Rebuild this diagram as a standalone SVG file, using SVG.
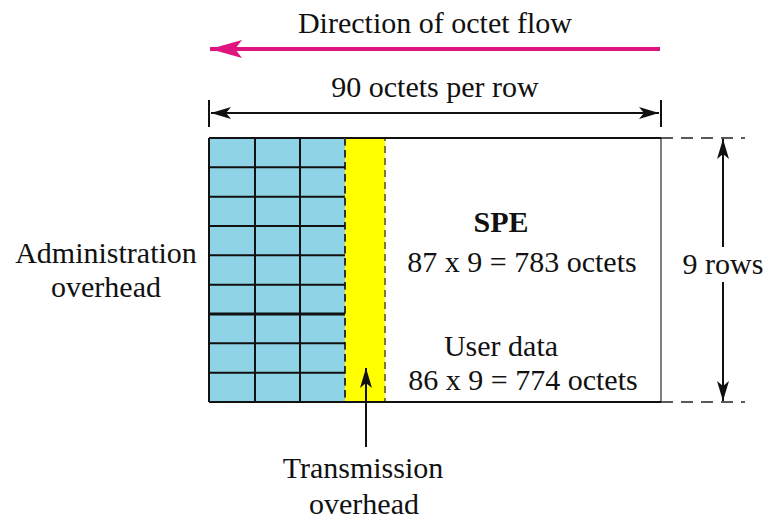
<svg xmlns="http://www.w3.org/2000/svg" width="770" height="520" viewBox="0 0 770 520">
<style>
  text { font-family: 'Liberation Serif', 'DejaVu Serif', serif; font-size: 30px; fill: #111; }
  .bold { font-weight: bold; }
  .grid { stroke: #111; stroke-width: 2; fill: none; }
  .dim { stroke: #111; stroke-width: 2; fill: none; }
  .dash { stroke: #222; stroke-width: 1.5; stroke-dasharray: 12 8; fill: none; }
</style>
<defs>
  <marker id="ah" viewBox="0 0 20 12" refX="20" refY="6" markerWidth="20" markerHeight="12" markerUnits="userSpaceOnUse" orient="auto-start-reverse">
    <path d="M0,0 L20,6 L0,12 L5,6 Z" fill="#111"/>
  </marker>
  <marker id="pink" viewBox="0 0 32 18" refX="32" refY="9" markerWidth="32" markerHeight="18" markerUnits="userSpaceOnUse" orient="auto">
    <path d="M0,0 L32,9 L0,18 L7,9 Z" fill="#E0147F"/>
  </marker>
</defs>
<rect width="770" height="520" fill="#fff"/>

<g id="flow-direction" font-family="Liberation Serif, serif">
  <text x="435" y="33" text-anchor="middle">Direction of octet flow</text>
</g>

<g id="frame">
  <rect x="209" y="138" width="136" height="264" fill="#8FD3E6"/>
  <rect x="345" y="138" width="40" height="264" fill="#FFFF00" stroke="#7A7A35" stroke-width="2" stroke-dasharray="7 5"/>
  <line x1="661" y1="138" x2="661" y2="402" stroke="#555" stroke-width="1.5"/>
  <line x1="209" y1="138" x2="661" y2="138" stroke="#111" stroke-width="2"/>
  <line x1="209" y1="402" x2="661" y2="402" stroke="#111" stroke-width="2"/>
  <g class="grid">
    <line x1="209" y1="138" x2="209" y2="402"/>
    <line x1="255" y1="138" x2="255" y2="402"/>
    <line x1="300" y1="138" x2="300" y2="402"/>
    <line x1="345" y1="138" x2="345" y2="402" stroke-dasharray="7 5" stroke="#333"/>
    <line x1="209" y1="167.3" x2="345" y2="167.3"/>
    <line x1="209" y1="196.7" x2="345" y2="196.7"/>
    <line x1="209" y1="226" x2="345" y2="226"/>
    <line x1="209" y1="255.3" x2="345" y2="255.3"/>
    <line x1="209" y1="284.7" x2="345" y2="284.7"/>
    <line x1="209" y1="314" x2="345" y2="314" stroke-width="3"/>
    <line x1="209" y1="343.3" x2="345" y2="343.3"/>
    <line x1="209" y1="372.7" x2="345" y2="372.7"/>
  </g>
</g>

<g id="admin-overhead">
  <text x="106" y="263" text-anchor="middle">Administration</text>
  <text x="106" y="297" text-anchor="middle">overhead</text>
</g>

<g id="spe">
  <text x="501" y="232" text-anchor="middle" class="bold">SPE</text>
  <text x="522" y="272" text-anchor="middle">87 x 9 = 783 octets</text>
</g>

<g id="user-data">
  <text x="501" y="356" text-anchor="middle">User data</text>
  <text x="523" y="390" text-anchor="middle">86 x 9 = 774 octets</text>
</g>

<g id="transmission-overhead">
  <text x="363" y="478" text-anchor="middle">Transmission</text>
  <text x="364" y="514" text-anchor="middle">overhead</text>
</g>

<g id="width-label">
  <text x="435" y="97" text-anchor="middle">90 octets per row</text>
</g>

<g id="rows-label">
  <text x="723" y="274" text-anchor="middle">9 rows</text>
</g>

<g id="connectors">
  <line x1="660" y1="49" x2="210" y2="49" stroke="#E0147F" stroke-width="4" marker-end="url(#pink)"/>
  <line x1="209" y1="100" x2="209" y2="127" class="dim"/>
  <line x1="661" y1="100" x2="661" y2="127" class="dim"/>
  <line x1="211" y1="113" x2="659" y2="113" class="dim" stroke-width="1.5" marker-start="url(#ah)" marker-end="url(#ah)"/>
  <line x1="661" y1="138" x2="745" y2="138" class="dash"/>
  <line x1="661" y1="402" x2="745" y2="402" class="dash"/>
  <line x1="723" y1="247" x2="723" y2="139" class="dim" marker-end="url(#ah)"/>
  <line x1="723" y1="282" x2="723" y2="401" class="dim" marker-end="url(#ah)"/>
  <line x1="366" y1="447" x2="366" y2="368" class="dim" stroke-width="1.5" marker-end="url(#ah)"/>
</g>
</svg>
